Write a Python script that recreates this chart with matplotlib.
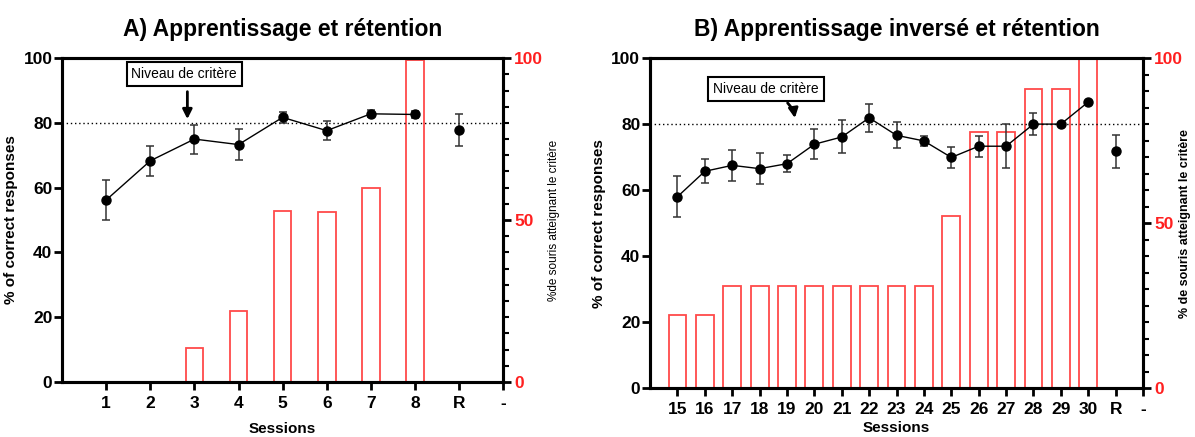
import matplotlib
matplotlib.use("Agg")
import matplotlib.pyplot as plt
from matplotlib.ticker import MultipleLocator

plt.rcParams['font.family'] = ['Liberation Sans', 'DejaVu Sans']

# ---------------- DATA ----------------
# Panel A : apprentissage (sessions 1-8) + retention
labels_a = ["1", "2", "3", "4", "5", "6", "7", "8", "R", "-"]
mean_a = [56.2, 68.3, 75.0, 73.3, 81.7, 77.6, 82.8, 82.6]
sem_a = [6.1, 4.7, 4.5, 4.7, 1.8, 2.9, 1.1, 1.2]
ret_a = 77.8
ret_sem_a = 4.9
crit_a = [0, 0, 10.5, 22.0, 52.7, 52.4, 60.0, 99.5]

# Panel B : apprentissage inverse (sessions 15-30) + retention
labels_b = ["15", "16", "17", "18", "19", "20", "21", "22", "23", "24",
            "25", "26", "27", "28", "29", "30", "R", "-"]
mean_b = [58.0, 65.7, 67.5, 66.5, 68.0, 73.9, 76.1, 81.9, 76.6, 74.9,
          69.9, 73.3, 73.3, 80.0, 80.0, 86.7]
sem_b = [6.2, 3.7, 4.7, 4.6, 2.6, 4.6, 5.0, 4.3, 3.9, 1.6,
         3.2, 3.2, 6.7, 3.4, 0, 0]
ret_b = 71.8
ret_sem_b = 5.0
crit_b = [22, 22, 31, 31, 31, 31, 31, 31, 31, 31,
          52, 77.5, 77.5, 90.6, 90.6, 100]

CRITERION = 80
RED = "#ff2020"
BAR_EDGE = "#ff4a4a"


def draw_panel(ax, labels, means, sems, ret, ret_sem, crit, bar_w,
               title, right_label, right_bold, right_x, x_pad,
               box_xy, arrow_xy, arrow_tip, rad):
    n = len(means)
    x = list(range(1, n + 1))
    ax2 = ax.twinx()

    # bars (right axis)
    ax2.bar(x, crit, width=bar_w, facecolor="white", edgecolor=BAR_EDGE,
            linewidth=1.3, zorder=1)
    ax2.set_ylim(0, 100)
    ax2.set_yticks([0, 50, 100])
    ax2.yaxis.set_minor_locator(MultipleLocator(5))
    ax2.tick_params(axis="y", which="major", length=6, width=2, labelsize=12.5,
                    labelcolor=RED, colors="black", pad=2)
    ax2.tick_params(axis="y", which="minor", length=4, width=1.5, colors="black")
    for lab in ax2.get_yticklabels():
        lab.set_color(RED)
        lab.set_fontweight("bold")
    ax2.set_ylabel(right_label, fontsize=8.5 if not right_bold else 9,
                   fontweight="bold" if right_bold else "normal")
    ax2.yaxis.set_label_coords(right_x, 0.5)

    # line + error bars (left axis), drawn above bars
    ax.set_zorder(ax2.get_zorder() + 1)
    ax.patch.set_visible(False)
    ax.axhline(CRITERION, color="black", linestyle=(0, (1, 2)), linewidth=1, zorder=2)
    ax.errorbar(x, means, yerr=sems, fmt="o-", color="black", ms=6.5, lw=1,
                ecolor="#333333", elinewidth=1.1, capsize=3, capthick=1.1, zorder=3)
    ax.errorbar([n + 1], [ret], yerr=[ret_sem], fmt="o", color="black", ms=6.5,
                ecolor="#333333", elinewidth=1.1, capsize=3, capthick=1.1, zorder=3)

    ax.set_xlim(0, n + 2)
    ax.set_ylim(0, 100)
    ax.set_xticks(range(1, n + 3))
    ax.set_xticklabels(labels)
    ax.set_yticks(range(0, 101, 20))
    ax.tick_params(axis="both", length=6, width=2, labelsize=12.5)
    ax.tick_params(axis="y", pad=1)
    ax.tick_params(axis="x", pad=4)
    for lab in ax.get_xticklabels() + ax.get_yticklabels():
        lab.set_fontweight("bold")
    for sp in ax.spines.values():
        sp.set_linewidth(2.2)
    for sp in ax2.spines.values():
        sp.set_linewidth(2.2)

    ax.set_ylabel("% of correct responses", fontsize=11, fontweight="bold", labelpad=4)
    ax.set_xlabel("Sessions", fontsize=11, fontweight="bold", labelpad=x_pad)
    ax.set_title(title, fontsize=16.5, fontweight="bold", pad=16)

    ax.annotate("", xy=arrow_tip, xytext=arrow_xy,
                arrowprops=dict(arrowstyle="-|>", color="black", lw=2,
                                mutation_scale=14,
                                connectionstyle="arc3,rad=%s" % rad),
                zorder=4)
    ax.text(box_xy[0], box_xy[1], "Niveau de critère", fontsize=10,
            ha="center", va="center", zorder=5,
            bbox=dict(boxstyle="square,pad=0.35", facecolor="white",
                      edgecolor="black", linewidth=1.5))


fig = plt.figure(figsize=(11.95, 4.37), dpi=100)
ax_a = fig.add_axes([0.052, 0.126, 0.369, 0.741])
ax_b = fig.add_axes([0.544, 0.112, 0.4125, 0.755])

draw_panel(ax_a, labels_a, mean_a, sem_a, ret_a, ret_sem_a, crit_a, 0.4,
           "A) Apprentissage et rétention", "%de souris atteignant le critère", False,
           1.102, 8, (2.77, 95.0), (2.84, 90.5), (2.84, 80.3), 0)
draw_panel(ax_b, labels_b, mean_b, sem_b, ret_b, ret_sem_b, crit_b, 0.65,
           "B) Apprentissage inversé et rétention", "% de souris atteignant le critère", True,
           1.074, 3, (4.23, 90.6), (4.95, 87.0), (5.3, 81.0), -0.2)

fig.savefig("out.png", dpi=100)
